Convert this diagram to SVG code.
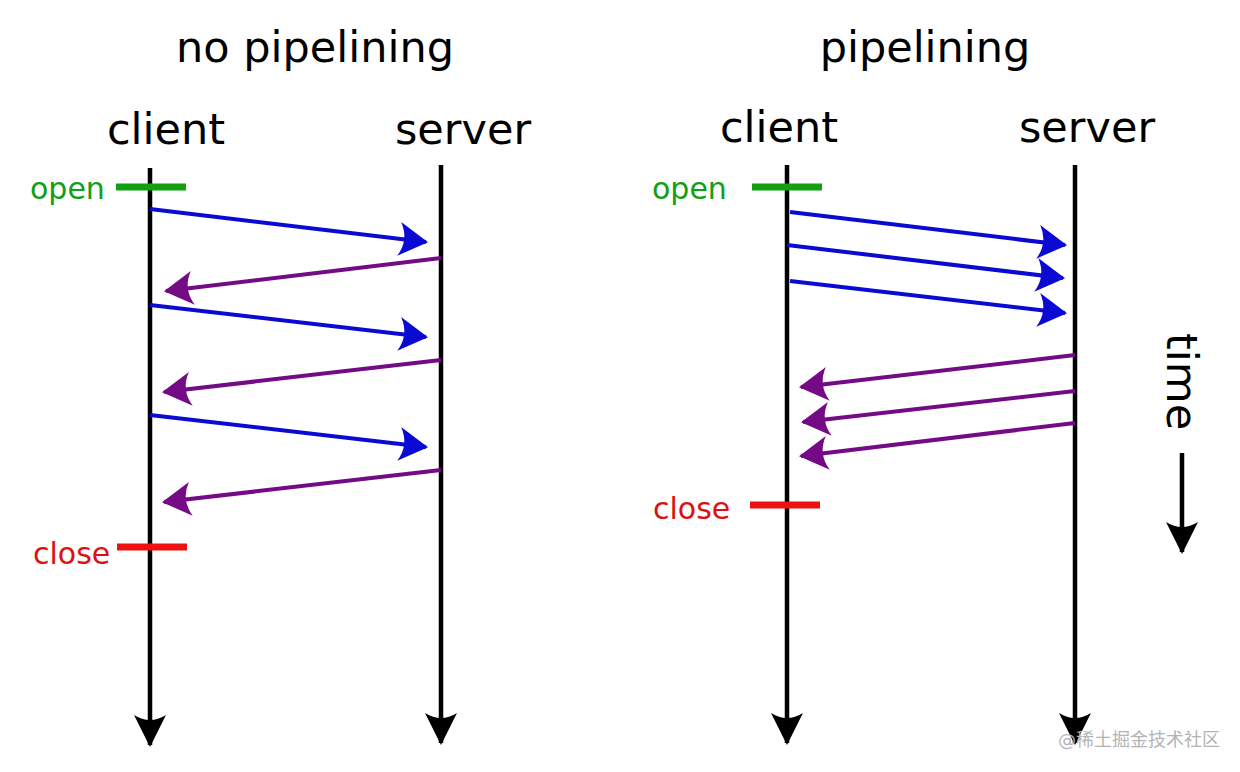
<svg xmlns="http://www.w3.org/2000/svg" width="1240" height="772" viewBox="0 0 1240 772">
<style>
text{font-family:"DejaVu Sans","Liberation Sans",sans-serif}
.title{font-size:43px;fill:#000;text-anchor:middle}
.lbl{font-size:30px}
.life{stroke:#000;stroke-width:4.5;fill:none}
.req{stroke:#0a0ad2;stroke-width:4;fill:none}
.rsp{stroke:#750a86;stroke-width:4;fill:none}
.open{stroke:#11a011;stroke-width:7}
.close{stroke:#ee1111;stroke-width:7}
marker{overflow:visible}
</style>
<defs>
<marker id="ak" markerUnits="userSpaceOnUse" markerWidth="40" markerHeight="40" refX="0" refY="0" orient="auto"><path d="M2,0 L-30,-16 Q-20,0 -30,16 Z" fill="#000"/></marker>
<marker id="ab" markerUnits="userSpaceOnUse" markerWidth="40" markerHeight="40" refX="0" refY="0" orient="auto"><path d="M2,0 L-27,-17 Q-17,0 -27,17 Z" fill="#0a0ad2"/></marker>
<marker id="ap" markerUnits="userSpaceOnUse" markerWidth="40" markerHeight="40" refX="0" refY="0" orient="auto"><path d="M2,0 L-27,-17 Q-17,0 -27,17 Z" fill="#750a86"/></marker>
</defs>
<rect width="1240" height="772" fill="#fff"/>
<text class="title" x="315" y="62">no pipelining</text>
<text class="title" x="925" y="62">pipelining</text>
<g id="left-client">
<text class="title" x="166" y="144">client</text>
<line class="life" x1="150" y1="168" x2="150" y2="745" marker-end="url(#ak)"/>
<line class="open" x1="116" y1="187" x2="186" y2="187"/>
<text class="lbl" x="30" y="199" fill="#11a011">open</text>
<line class="close" x1="117" y1="547" x2="187" y2="547"/>
<text class="lbl" x="33" y="564" fill="#dd1111">close</text>
</g>
<g id="left-server">
<text class="title" x="463" y="144">server</text>
<line class="life" x1="441" y1="165" x2="441" y2="743" marker-end="url(#ak)"/>
</g>
<g id="right-client">
<text class="title" x="779" y="142">client</text>
<line class="life" x1="787" y1="165" x2="787" y2="743" marker-end="url(#ak)"/>
<line class="open" x1="752" y1="187" x2="822" y2="187"/>
<text class="lbl" x="652" y="199" fill="#11a011">open</text>
<line class="close" x1="750" y1="505" x2="820" y2="505"/>
<text class="lbl" x="653" y="519" fill="#dd1111">close</text>
</g>
<g id="right-server">
<text class="title" x="1087" y="142">server</text>
<line class="life" x1="1075" y1="165" x2="1075" y2="743" marker-end="url(#ak)"/>
</g>
<g id="time">
<text x="1167" y="333" font-size="43" transform="rotate(90 1167 333)">time</text>
<line class="life" x1="1182" y1="453" x2="1182" y2="552" marker-end="url(#ak)"/>
</g>
<g id="connectors">
<line class="req" x1="150" y1="209" x2="426" y2="242" marker-end="url(#ab)"/>
<line class="rsp" x1="441" y1="258" x2="166" y2="291" marker-end="url(#ap)"/>
<line class="req" x1="150" y1="305" x2="426" y2="337" marker-end="url(#ab)"/>
<line class="rsp" x1="441" y1="360" x2="164" y2="392" marker-end="url(#ap)"/>
<line class="req" x1="150" y1="415" x2="426" y2="447" marker-end="url(#ab)"/>
<line class="rsp" x1="441" y1="470" x2="164" y2="502" marker-end="url(#ap)"/>
<line class="req" x1="790" y1="212" x2="1065" y2="245" marker-end="url(#ab)"/>
<line class="req" x1="787" y1="245" x2="1063" y2="278" marker-end="url(#ab)"/>
<line class="req" x1="790" y1="281" x2="1065" y2="313" marker-end="url(#ab)"/>
<line class="rsp" x1="1075" y1="355" x2="801" y2="387" marker-end="url(#ap)"/>
<line class="rsp" x1="1075" y1="391" x2="803" y2="422" marker-end="url(#ap)"/>
<line class="rsp" x1="1075" y1="423" x2="801" y2="456" marker-end="url(#ap)"/>
</g>
<text x="1058" y="746" font-size="18" fill="#b4b4b4" style="font-family:'DejaVu Sans','Noto Sans CJK SC',sans-serif">@稀土掘金技术社区</text>
</svg>
